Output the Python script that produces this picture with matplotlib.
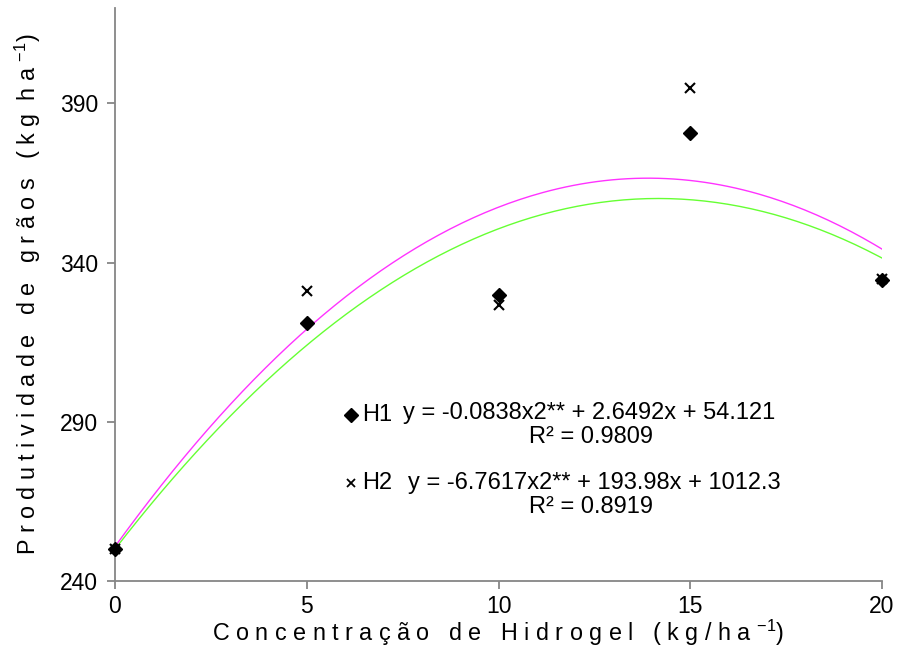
import numpy as np
import matplotlib
matplotlib.use("Agg")
import matplotlib.pyplot as plt

plt.rcParams['font.family'] = ['Liberation Sans', 'DejaVu Sans']

# dose de hidrogel (kg/ha)
doses = [0, 5, 10, 15, 20]
# produtividade
h1 = [250.0, 321.0, 329.8, 380.6, 334.5]
h2 = [250.0, 331.0, 326.6, 395.0, 334.8]

yticks = [240, 290, 340, 390]
xticks = [0, 5, 10, 15, 20]

eq_h1 = "y = -0.0838x2** + 2.6492x + 54.121"
r2_h1 = "R² = 0.9809"
eq_h2 = "y = -6.7617x2** + 193.98x + 1012.3"
r2_h2 = "R² = 0.8919"

gray = "#868686"

fig = plt.figure(figsize=(8.97, 6.48), dpi=100)
ax = fig.add_axes([0.1282, 0.1034, 0.8551, 0.8843])

# linhas de tendencia (polinomio de 2o grau ajustado aos dados)
xs = np.linspace(0, 20, 200)
p1 = np.polyfit(doses, h1, 2)
p2 = np.polyfit(doses, h2, 2)
ax.plot(xs, np.polyval(p1, xs), color="#66ff33", lw=1.0, zorder=2)
ax.plot(xs, np.polyval(p2, xs), color="#ff33ff", lw=1.0, zorder=2)

ax.plot(doses, h1, "D", color="black", ms=7.5, zorder=3, clip_on=False)
ax.plot(doses, h2, "x", color="black", ms=6.5, mew=1.5, zorder=3, clip_on=False)

ax.set_xlim(0, 20)
ax.set_ylim(240, 420)
ax.set_xticks(xticks)
ax.set_yticks(yticks)
for s in ["top", "right"]:
    ax.spines[s].set_visible(False)
for s in ["left", "bottom"]:
    ax.spines[s].set_color(gray)
    ax.spines[s].set_linewidth(1.3)
ax.tick_params(axis="both", direction="out", length=6, width=1.3, color=gray,
               labelsize=16.5)
ax.tick_params(axis="x", pad=4)
ax.tick_params(axis="y", pad=6)

ax.set_ylabel("P r o d u t i v i d a d e   d e   g r ã o s   ( k g  h a $\\mathregular{^{-1}}$)",
              fontsize=16.8, labelpad=12)
ax.set_xlabel("C o n c e n t r a ç ã o   d e   H i d r o g e l   ( k g / h a $\\mathregular{^{-1}}$)",
              fontsize=16.8, labelpad=0)

# rotulos das equacoes
tr = ax.transAxes
fs = 17
ax.plot([0.3077], [0.2897], "D", color="black", ms=7, transform=tr, clip_on=False)
ax.text(0.322, 0.2897, "H1", fontsize=fs, va="center", ha="left", transform=tr)
ax.text(0.618, 0.2930, eq_h1, fontsize=fs, va="center", ha="center", transform=tr)
ax.text(0.6206, 0.2513, r2_h1, fontsize=fs, va="center", ha="center", transform=tr)
ax.plot([0.3077], [0.171], "x", color="black", ms=5.5, mew=1.3, transform=tr, clip_on=False)
ax.text(0.322, 0.171, "H2", fontsize=fs, va="center", ha="left", transform=tr)
ax.text(0.6245, 0.171, eq_h2, fontsize=fs, va="center", ha="center", transform=tr)
ax.text(0.6206, 0.129, r2_h2, fontsize=fs, va="center", ha="center", transform=tr)

fig.savefig("out.png", dpi=100)
